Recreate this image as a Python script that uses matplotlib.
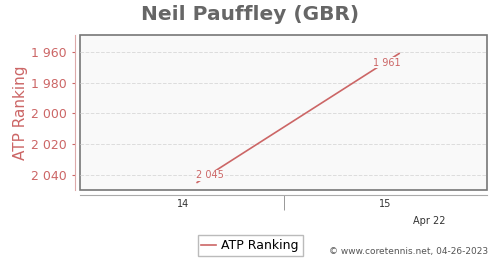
import matplotlib.pyplot as plt
from matplotlib.ticker import FuncFormatter

weeks = [14.07, 15.07]
ranking = [2045, 1961]
week_ticks = [14, 15]
week_labels = ["14", "15"]
y_ticks = [1960, 1980, 2000, 2020, 2040]
# label offsets in pixels, labels sit on the line near each point
label_offsets = [(13, 7), (-12, -9)]

red = "#cc6666"


def fmt(v, pos=None):
    return "{:,}".format(int(v)).replace(",", " ")


def main():
    fig = plt.figure(figsize=(5, 2.7), dpi=100)
    ax = fig.add_axes([0.16, 0.296, 0.814, 0.574])
    ax.set_facecolor("#f9f9f9")
    ax.patch.set_edgecolor("#777777")
    ax.patch.set_linewidth(1.2)

    ax.plot(weeks, ranking, color=red, linewidth=1.2, label="ATP Ranking")
    for x, y, off in zip(weeks, ranking, label_offsets):
        ax.annotate(fmt(y), (x, y), xytext=off, textcoords="offset pixels",
                    color=red, fontsize=7, ha="center", va="center",
                    bbox=dict(facecolor="#f9f9f9", edgecolor="none", pad=0.5))

    ax.set_xlim(13.49, 15.505)
    ax.set_ylim(2050, 1949)
    ax.set_yticks(y_ticks)
    ax.yaxis.set_major_formatter(FuncFormatter(fmt))
    ax.grid(axis="y", color="#dddddd", linestyle="--", linewidth=0.7)

    ax.set_xticks(week_ticks)
    ax.set_xticklabels(week_labels)
    ax.set_xticks([14.5], minor=True)
    ax.tick_params(axis="x", which="major", length=0, pad=3, labelsize=7, colors="#333333")
    ax.tick_params(axis="x", which="minor", length=11, color="#888888")
    ax.tick_params(axis="y", length=2.5, pad=3.2, color=red, labelcolor=red, labelsize=9)

    for s in ["top", "right"]:
        ax.spines[s].set_visible(False)
    ax.spines["left"].set_position(("outward", 3.6))
    ax.spines["left"].set_color("#ddaaaa")
    ax.spines["bottom"].set_position(("outward", 3.6))
    ax.spines["bottom"].set_color("#aaaaaa")

    ax.set_ylabel("ATP Ranking", color=red, fontsize=11)
    ax.yaxis.set_label_coords(-0.128, 0.5)
    fig.text(0.5, 0.945, "Neil Pauffley (GBR)", ha="center", va="center",
             fontsize=14.5, fontweight="bold", color="#666666")
    fig.text(0.858, 0.18, "Apr 22", ha="center", va="center", fontsize=7, color="#333333")
    fig.text(0.976, 0.067, "\u00a9 www.coretennis.net, 04-26-2023", ha="right",
             va="center", fontsize=6.5, color="#555555")

    fig.legend(loc="center", bbox_to_anchor=(0.5, 0.091), fontsize=9,
               fancybox=False, edgecolor="#aaaaaa", handlelength=1.2,
               borderpad=0.3, handletextpad=0.4, borderaxespad=0)

    fig.savefig("out.png", dpi=100)


if __name__ == "__main__":
    main()
